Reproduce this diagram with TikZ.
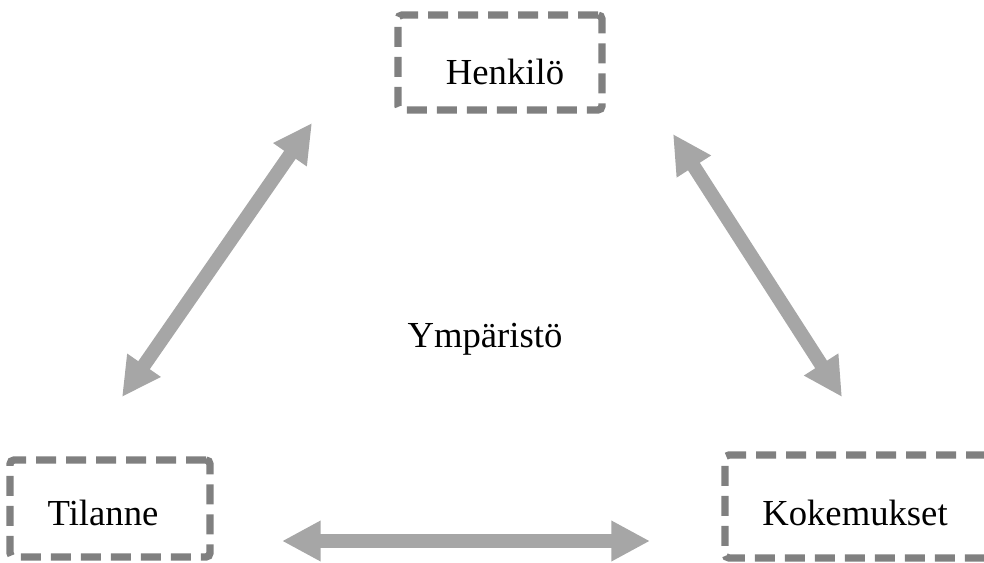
\documentclass[tikz,border=0pt]{standalone}
\usepackage{fontspec}
\setmainfont{Liberation Serif}
\usetikzlibrary{arrows.meta}
\definecolor{mydarkgray}{RGB}{128,128,128}
\definecolor{mylightgray}{RGB}{166,166,166}
\newcommand{\widthline}{5.5pt}
\tikzset{
    frame/.style={draw=mydarkgray, line width=\widthline, rounded corners=3pt,
        dash pattern=on 15pt off 7.5pt, rectangle, inner sep=0pt},
    word/.style={anchor=base, font=\fontsize{27.5}{33}\selectfont},
    link/.style={mylightgray, line width=10.5pt,
        {Triangle[length=29pt, width=28.5pt]}-{Triangle[length=29pt, width=28.5pt]}}
}
\begin{document}
\begin{tikzpicture}[x=0.75pt, y=-0.75pt]
    \useasboundingbox (0,0) rectangle (984,563);

    % dashed frames
    \node[frame, minimum width=153pt, minimum height=71.25pt] (henkiloframe) at (500,62.5) {};
    \node[frame, minimum width=150pt, minimum height=72.75pt] (tilanneframe) at (110,508.5) {};
    \node[frame, minimum width=198.75pt, minimum height=77.25pt] (kokemuksetframe) at (857.5,506.5) {};

    % words
    \node[word] (henkilo) at (505,85) {Henkilö};
    \node[word] (tilanne) at (103,525) {Tilanne};
    \node[word] (kokemukset) at (855,525) {Kokemukset};
    \node[word] (ymparisto) at (485,347) {Ympäristö};

    % arrow ends
    \coordinate (a1) at (312,123);
    \coordinate (a2) at (122,397);
    \coordinate (b1) at (673,134);
    \coordinate (b2) at (842,397);
    \coordinate (c1) at (282,541);
    \coordinate (c2) at (650,541);

    \draw[link] (a1) -- (a2);
    \draw[link] (b1) -- (b2);
    \draw[link] (c1) -- (c2);
\end{tikzpicture}
\end{document}
